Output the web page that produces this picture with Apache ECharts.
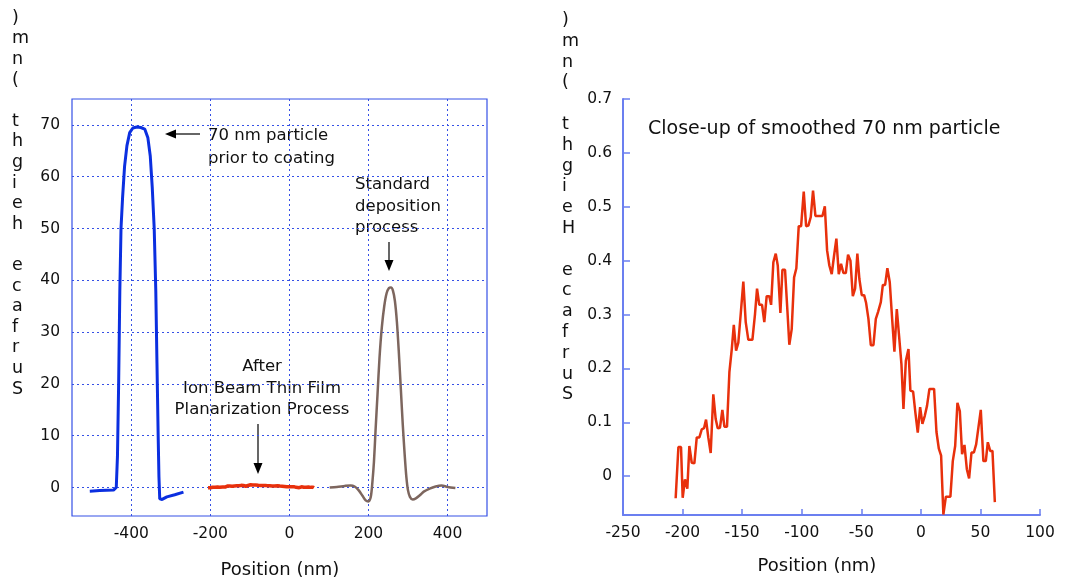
<!DOCTYPE html>
<html>
<head>
<meta charset="utf-8">
<script src="https://cdn.jsdelivr.net/npm/echarts@6/dist/echarts.min.js"></script>
<style>
  html, body { margin: 0; padding: 0; background: #fff; }
  #chart { width: 1067px; height: 588px; }
</style>
</head>
<body>
<div id="chart"></div>
<script>
// 70 nm particle before coating (blue)
var beforeX = [-505, -480, -445, -438, -435, -432, -429, -426, -422, -417, -411, -404, -396, -386, -376, -366, -358, -352, -347, -342, -338, -335, -332, -330, -328, -322, -310, -290, -268];
var beforeY = [-0.7, -0.6, -0.5, 0, 6, 20, 38, 50, 56, 62, 66, 68.5, 69.4, 69.6, 69.5, 69.2, 67.5, 64, 58, 50, 38, 24, 10, 2, -2.2, -2.3, -1.8, -1.4, -0.9];

// standard deposition process (brown)
var stdX = [102, 120, 140, 155, 165, 175, 185, 193, 200, 206, 210, 214, 218, 223, 228, 234, 240, 246, 252, 257, 262, 267, 272, 277, 282, 287, 292, 296, 300, 305, 312, 320, 330, 340, 355, 370, 385, 400, 420];
var stdY = [0, 0.1, 0.3, 0.4, 0.2, -0.5, -1.6, -2.5, -2.7, -1.8, 1, 5, 11, 18, 25, 31, 35, 37.5, 38.5, 38.6, 38, 36, 32, 26, 19, 12, 6, 2, -0.5, -1.8, -2.3, -2.1, -1.5, -0.8, -0.2, 0.2, 0.4, 0.1, -0.1];

// after ion beam planarization, smoothed (red) - same data in the close-up
var smoothX = [-205.8, -203.5, -201.3, -199.9, -198, -196, -194.3, -192.3, -190.1, -188.1, -185.9, -183.9, -182, -180.3, -178.4, -176.4, -174.2, -172.2, -170.5, -168.6, -166.6, -164.9, -162.7, -160.7, -158.7, -157, -155.1, -153.2, -151.2, -149, -147, -144.8, -141.4, -139.2, -137.5, -135.6, -133.3, -131.4, -129.4, -127.2, -125.7, -123.8, -121.8, -120.1, -117.9, -116.2, -114, -112, -110.4, -108.4, -106.4, -104.5, -102.5, -100.5, -98.3, -96.3, -94.4, -92.4, -90.5, -88.5, -85.5, -82.6, -80.6, -78.7, -76.8, -74.8, -72.8, -70.9, -68.9, -67, -65, -63, -61.1, -59.1, -57.1, -55.2, -53.3, -51.6, -49.6, -47.6, -46, -44, -42, -39.8, -37.8, -35.9, -33.6, -31.9, -30, -28.1, -26.1, -24.1, -22.2, -20.2, -18.3, -16.3, -14.6, -12.6, -10.4, -8.8, -6.5, -4.6, -2.6, -0.6, 1.3, 3.3, 5.2, 7.2, 11.1, 13.1, 15.1, 17, 18.9, 21, 24.8, 26.8, 28.8, 30.7, 32.7, 34.6, 36.6, 38.6, 40.5, 42.5, 44.5, 46.4, 48.3, 50.3, 52.5, 54.5, 56.2, 58.2, 60.1, 62.1];
var smoothY = [-0.041, 0.054, 0.054, -0.040, -0.006, -0.023, 0.056, 0.025, 0.024, 0.072, 0.072, 0.087, 0.089, 0.105, 0.072, 0.043, 0.152, 0.106, 0.089, 0.090, 0.123, 0.092, 0.092, 0.193, 0.236, 0.281, 0.233, 0.248, 0.301, 0.361, 0.286, 0.253, 0.253, 0.301, 0.348, 0.318, 0.318, 0.286, 0.334, 0.334, 0.318, 0.397, 0.413, 0.391, 0.303, 0.383, 0.383, 0.307, 0.244, 0.273, 0.369, 0.386, 0.464, 0.464, 0.528, 0.464, 0.465, 0.481, 0.530, 0.483, 0.483, 0.483, 0.501, 0.419, 0.391, 0.375, 0.410, 0.441, 0.375, 0.394, 0.377, 0.377, 0.411, 0.400, 0.334, 0.348, 0.413, 0.366, 0.336, 0.336, 0.322, 0.292, 0.243, 0.243, 0.292, 0.305, 0.323, 0.355, 0.355, 0.386, 0.360, 0.292, 0.231, 0.310, 0.261, 0.208, 0.125, 0.214, 0.236, 0.159, 0.157, 0.118, 0.081, 0.128, 0.097, 0.112, 0.131, 0.162, 0.162, 0.082, 0.051, 0.038, -0.071, -0.038, -0.038, 0.028, 0.056, 0.136, 0.121, 0.041, 0.058, 0.013, -0.004, 0.044, 0.044, 0.059, 0.090, 0.123, 0.028, 0.028, 0.063, 0.047, 0.047, -0.048];

var leftXTicks = [-400, -200, 0, 200, 400];
var leftYTicks = [0, 10, 20, 30, 40, 50, 60, 70];
var rightYTicks = [0, 0.1, 0.2, 0.3, 0.4, 0.5, 0.6, 0.7];

var FONT = 'DejaVu Sans';
var AXIS_BLUE = '#3550e6';
var LIGHT_BLUE = '#6b7ff0';

function pairs(xs, ys) {
    var out = [];
    for (var i = 0; i < xs.length; i++) out.push([xs[i], ys[i]]);
    return out;
}

function $ext(a, b) {
    for (var k in b) a[k] = b[k];
    return a;
}

// 竖排的 y 轴标题 (字母从下往上排)
function stackedTitle(str) {
    return str.split('').reverse().join('\n');
}

function arrow(x1, y1, x2, y2) {
    var dx = x2 - x1, dy = y2 - y1, len = Math.sqrt(dx * dx + dy * dy);
    var ux = dx / len, uy = dy / len, h = 11, w = 4.5;
    var bx = x2 - ux * h, by = y2 - uy * h;
    return [{
        type: 'line',
        shape: { x1: x1, y1: y1, x2: bx, y2: by },
        style: { stroke: '#000', lineWidth: 1.2 }
    }, {
        type: 'polygon',
        shape: { points: [[x2, y2], [bx - uy * w, by + ux * w], [bx + uy * w, by - ux * w]] },
        style: { fill: '#000' }
    }];
}

var labelStyle = { color: '#111', fontFamily: FONT, fontSize: 15.5 };
var textStyle = function (size) {
    return { fill: '#111', font: size + 'px "' + FONT + '"' };
};

var chart = echarts.init(document.getElementById('chart'), null, { renderer: 'canvas' });

var graphics = [
    { type: 'text', left: 12, top: 8, style: { text: stackedTitle('Surface height (nm)'), fill: '#111', font: '17.5px "' + FONT + '"', lineHeight: 20.6 } },
    { type: 'text', left: 562, top: 10, style: { text: stackedTitle('Surface Height (nm)'), fill: '#111', font: '17.5px "' + FONT + '"', lineHeight: 20.8 } },
    { type: 'text', x: 280, y: 570, style: $ext({ text: 'Position (nm)', textAlign: 'center', textVerticalAlign: 'middle' }, textStyle(18)) },
    { type: 'text', x: 817, y: 566, style: $ext({ text: 'Position (nm)', textAlign: 'center', textVerticalAlign: 'middle' }, textStyle(18)) },
    { type: 'text', x: 208, y: 124, style: $ext({ text: '70 nm particle\nprior to coating', lineHeight: 23 }, textStyle(16.5)) },
    { type: 'text', x: 355, y: 174, style: $ext({ text: 'Standard\ndeposition\nprocess', lineHeight: 21.5 }, textStyle(16.5)) },
    { type: 'text', x: 262, y: 356, style: $ext({ text: 'After\nIon Beam Thin Film\nPlanarization Process', textAlign: 'center', lineHeight: 21.5 }, textStyle(16.5)) },
    { type: 'text', x: 648, y: 120, style: $ext({ text: 'Close-up of smoothed 70 nm particle' }, textStyle(19)) }
];
graphics = graphics.concat(arrow(200, 134, 165, 134), arrow(389, 242, 389, 271), arrow(258, 424, 258, 474));

var option = {
    animation: false,
    backgroundColor: '#fff',
    grid: [
        { left: 72, top: 99, width: 415, height: 417, show: true, borderColor: AXIS_BLUE, borderWidth: 1.2, backgroundColor: 'transparent' },
        { left: 623, top: 99, width: 417, height: 416 }
    ],
    xAxis: [{
        gridIndex: 0, type: 'value', min: -550, max: 500,
        axisLine: { show: false },
        axisTick: { show: false, customValues: leftXTicks },
        axisLabel: $ext({ customValues: leftXTicks, margin: 10 }, labelStyle),
        splitLine: { show: true, lineStyle: { color: AXIS_BLUE, type: [2, 3], width: 1 } }
    }, {
        gridIndex: 1, type: 'value', min: -250, max: 100, interval: 50,
        axisLine: { show: true, onZero: false, lineStyle: { color: LIGHT_BLUE, width: 2 } },
        axisTick: { show: true, inside: true, length: 6, lineStyle: { color: LIGHT_BLUE, width: 1.5 } },
        axisLabel: $ext({ margin: 10 }, labelStyle),
        splitLine: { show: false }
    }],
    yAxis: [{
        gridIndex: 0, type: 'value', min: -5.5, max: 75,
        axisLine: { show: false },
        axisTick: { show: false, customValues: leftYTicks },
        axisLabel: $ext({ customValues: leftYTicks, margin: 12 }, labelStyle),
        splitLine: { show: true, lineStyle: { color: AXIS_BLUE, type: [2, 3], width: 1 } }
    }, {
        gridIndex: 1, type: 'value', min: -0.072, max: 0.7,
        axisLine: { show: true, onZero: false, lineStyle: { color: LIGHT_BLUE, width: 2 } },
        axisTick: { show: true, inside: true, length: 7, customValues: rightYTicks, lineStyle: { color: LIGHT_BLUE, width: 1.5 } },
        axisLabel: $ext({ customValues: rightYTicks, margin: 11 }, labelStyle),
        splitLine: { show: false }
    }],
    series: [{
        type: 'line', xAxisIndex: 0, yAxisIndex: 0, data: pairs(beforeX, beforeY),
        showSymbol: false, lineStyle: { color: '#0b2fe0', width: 3 }, z: 3
    }, {
        type: 'line', xAxisIndex: 0, yAxisIndex: 0, data: pairs(smoothX, smoothY),
        showSymbol: false, lineStyle: { color: '#e8300c', width: 3.5 }, z: 3
    }, {
        type: 'line', xAxisIndex: 0, yAxisIndex: 0, data: pairs(stdX, stdY), smooth: 0.3,
        showSymbol: false, lineStyle: { color: '#7d665e', width: 2.5 }, z: 3
    }, {
        type: 'line', xAxisIndex: 1, yAxisIndex: 1, data: pairs(smoothX, smoothY),
        showSymbol: false, lineStyle: { color: '#e8300c', width: 2.5 }, z: 3
    }],
    graphic: graphics
};

chart.setOption(option);
</script>
</body>
</html>
